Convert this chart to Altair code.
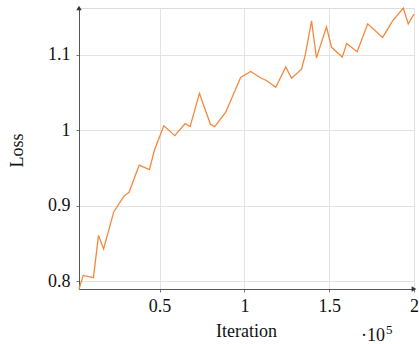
import altair as alt
import pandas as pd

# Data (iterations, loss)
iterations = [2500, 5000, 11000, 14000, 17000, 23000, 29000, 32000, 38000, 44000,
              47000, 52500, 59000, 65000, 68000, 73500, 76500, 80000, 82500, 89000,
              97800, 103700, 110000, 113000, 118500, 124400, 127800, 133700, 136000, 139600,
              142500, 148400, 151400, 157700, 160300, 166500, 172700, 181500, 187400, 193700,
              196600, 200000]
loss = [0.790, 0.808, 0.805, 0.861, 0.843, 0.892, 0.913, 0.918, 0.954, 0.948,
        0.974, 1.006, 0.993, 1.009, 1.005, 1.049, 1.030, 1.008, 1.005, 1.024,
        1.070, 1.078, 1.069, 1.066, 1.057, 1.084, 1.069, 1.081, 1.101, 1.145,
        1.096, 1.137, 1.110, 1.097, 1.115, 1.104, 1.141, 1.123, 1.145, 1.162,
        1.141, 1.154]

x_ticks = [50000, 100000, 150000, 200000]
y_ticks = [0.8, 0.9, 1.0, 1.1]

df = pd.DataFrame({"Iteration": iterations, "Loss": loss})

FONT = "Liberation Serif"
xmin, xmax = min(iterations), max(iterations)
ymin, ymax = min(loss), max(loss)

xscale = alt.Scale(domain=[xmin, xmax], nice=False, zero=False)
yscale = alt.Scale(domain=[ymin, ymax], nice=False, zero=False)

line = alt.Chart(df).mark_line(color="#f5883a", strokeWidth=1.3).encode(
    x=alt.X("Iteration:Q", scale=xscale,
            axis=alt.Axis(values=x_ticks, labelExpr="datum.value / 100000",
                          title="Iteration", grid=True, gridColor="#e3e3e3",
                          domainColor="#555555", tickColor="#777777", tickSize=3,
                          labelPadding=5, labelFont=FONT, labelFontSize=18,
                          labelColor="#111111", labelFlush=False,
                          titleFont=FONT, titleFontSize=18, titleFontWeight="normal",
                          titleColor="#111111", titleX=167, titleY=42,
                          titleBaseline="middle", titleAnchor="start", titleAlign="center")),
    y=alt.Y("Loss:Q", scale=yscale,
            axis=alt.Axis(values=y_ticks, format=".1~f", title="Loss", grid=True,
                          gridColor="#e3e3e3", domainColor="#555555",
                          tickColor="#777777", tickSize=3, labelPadding=6,
                          labelFont=FONT, labelFontSize=18, labelColor="#111111",
                          labelFlush=False,
                          titleFont=FONT, titleFontSize=18, titleFontWeight="normal",
                          titleColor="#111111", titleX=-62, titleY=142,
                          titleBaseline="middle", titleAlign="center", titleAngle=270)),
)

arrow_df = pd.DataFrame({
    "Iteration": [xmin, xmax],
    "Loss": [ymax, ymin],
    "shape": ["triangle-up", "triangle-right"],
})
arrows = alt.Chart(arrow_df).mark_point(filled=True, color="#333333", size=30, opacity=1).encode(
    x=alt.X("Iteration:Q", scale=xscale),
    y=alt.Y("Loss:Q", scale=yscale),
    shape=alt.Shape("shape:N", scale=None),
)

exp_main = alt.Chart(pd.DataFrame({"t": ["·10"]})).mark_text(
    font=FONT, fontSize=18, align="right", baseline="alphabetic", color="#111111"
).encode(text="t:N", x=alt.value(306), y=alt.value(333))
exp_sup = alt.Chart(pd.DataFrame({"t": ["5"]})).mark_text(
    font=FONT, fontSize=13, align="left", baseline="alphabetic", color="#111111"
).encode(text="t:N", x=alt.value(307), y=alt.value(326))

chart = alt.layer(line, arrows, exp_main, exp_sup).properties(
    width=335, height=281,
    autosize=alt.AutoSizeParams(type="none"),
    padding={"left": 79, "top": 8, "right": 5, "bottom": 55},
).configure_view(stroke=None).configure(background="white")

chart.save("out.html", embed_options={"renderer": "svg", "actions": False})
